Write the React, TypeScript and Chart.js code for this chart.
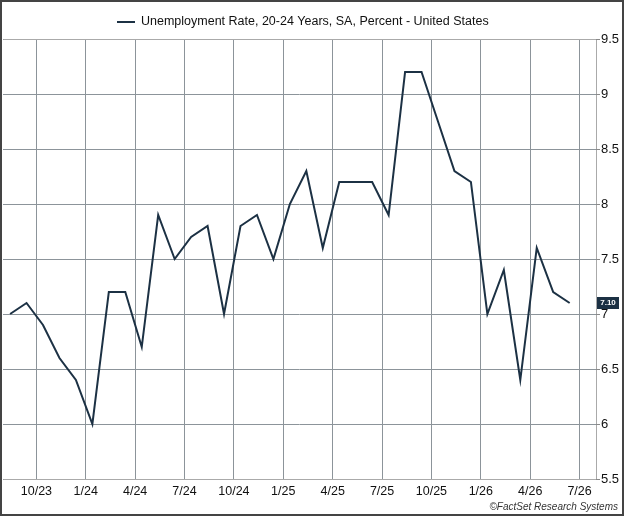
import React, { useEffect, useRef } from "react";
import { Chart, registerables } from "chart.js";
Chart.register(...registerables);

const values = [7.0, 7.1, 6.9, 6.6, 6.4, 6.0, 7.2, 7.2, 6.7, 7.9, 7.5, 7.7, 7.8, 7.0, 7.8, 7.9, 7.5, 8.0, 8.3, 7.6, 8.2, 8.2, 8.2, 7.9, 9.2, 9.2, 8.75, 8.3, 8.2, 7.0, 7.4, 6.4, 7.6, 7.2, 7.1];
const tickLabels = ["10/23", "1/24", "4/24", "7/24", "10/24", "1/25", "4/25", "7/25", "10/25", "1/26", "4/26", "7/26"];
const tickPositions = tickLabels.map((_, i) => 1.6 + 3 * i);
const yTicks = [5.5, 6, 6.5, 7, 7.5, 8, 8.5, 9, 9.5];
const seriesName = "Unemployment Rate, 20-24 Years, SA, Percent - United States";
const FONT = "Arial, 'Liberation Sans', sans-serif";

export default function App() {
  const ref = useRef<HTMLCanvasElement>(null);
  useEffect(() => {
    const framePlugin = {
      id: "frame",
      afterDraw(chart: any) {
        const { ctx, chartArea: a } = chart;
        ctx.save();
        ctx.strokeStyle = "#aaa";
        ctx.lineWidth = 1;
        ctx.beginPath();
        ctx.moveTo(a.left + 0.5, a.top + 0.5);
        ctx.lineTo(a.right + 0.5, a.top + 0.5);
        ctx.lineTo(a.right + 0.5, a.bottom + 0.5);
        ctx.lineTo(a.left + 0.5, a.bottom + 0.5);
        ctx.stroke();
        ctx.strokeStyle = "#888";
        yTicks.forEach((v) => {
          const y = Math.round(chart.scales.y.getPixelForValue(v)) + 0.5;
          ctx.beginPath(); ctx.moveTo(a.right, y); ctx.lineTo(a.right + 4, y); ctx.stroke();
        });
        ctx.strokeStyle = "#444";
        ctx.lineWidth = 2;
        ctx.strokeRect(1, 1, 622, 514);
        ctx.strokeStyle = "#1c3144";
        ctx.lineWidth = 2;
        ctx.beginPath(); ctx.moveTo(117, 22); ctx.lineTo(135, 22); ctx.stroke();
        ctx.fillStyle = "#111";
        ctx.font = "12.5px " + FONT;
        ctx.textAlign = "left";
        ctx.textBaseline = "middle";
        ctx.fillText(seriesName, 141, 22);
        const last = values[values.length - 1];
        const y = chart.scales.y.getPixelForValue(last);
        ctx.fillStyle = "#1c3144";
        ctx.fillRect(a.right + 1, y - 6, 22, 12);
        ctx.fillStyle = "#fff";
        ctx.font = "bold 8px " + FONT;
        ctx.textAlign = "center";
        ctx.fillText(last.toFixed(2), a.right + 12, y);
        ctx.fillStyle = "#333";
        ctx.font = "italic 10px " + FONT;
        ctx.textAlign = "right";
        ctx.fillText("©FactSet Research Systems", 618, 507);
        ctx.restore();
      },
    };
    const chart = new Chart(ref.current!, {
      type: "line",
      data: {
        datasets: [{
          label: seriesName,
          data: values.map((v, i) => ({ x: i, y: v })),
          borderColor: "#1c3144",
          borderWidth: 2,
          pointRadius: 0,
          tension: 0,
        }],
      },
      options: {
        animation: false,
        responsive: false,
        layout: { padding: { left: 3, right: 0, top: 39, bottom: 0 } },
        plugins: { legend: { display: false }, tooltip: { enabled: false } },
        scales: {
          x: {
            type: "linear",
            min: -0.43,
            max: 35.6,
            afterBuildTicks: (s: any) => { s.ticks = tickPositions.map((v) => ({ value: v })); },
            afterFit: (s: any) => { s.height = 37; },
            ticks: {
              callback: (_v: any, i: number) => tickLabels[i],
              color: "#111",
              font: { size: 12.5, family: FONT },
              maxRotation: 0,
              autoSkip: false,
              padding: 5,
            },
            grid: { color: "#8c949a", drawTicks: false },
            border: { display: false },
          },
          y: {
            position: "right",
            min: 5.5,
            max: 9.5,
            afterBuildTicks: (s: any) => { s.ticks = yTicks.map((v) => ({ value: v })); },
            afterFit: (s: any) => { s.width = 28; },
            ticks: { callback: (v: any) => String(v), color: "#111", font: { size: 13, family: FONT }, padding: 5 },
            grid: { color: "#8c949a", drawTicks: false },
            border: { display: false },
          },
        },
      },
      plugins: [framePlugin],
    });
    return () => chart.destroy();
  }, []);
  return (
    <div style={{ position: "absolute", left: 0, top: 0, background: "#fff" }}>
      <canvas ref={ref} width={624} height={516} />
    </div>
  );
}
